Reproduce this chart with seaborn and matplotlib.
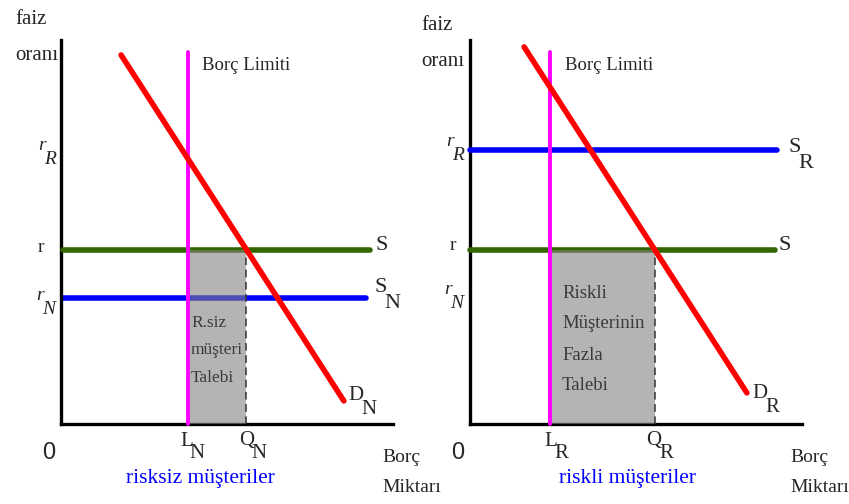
import numpy as np
import matplotlib
matplotlib.use("Agg")
import matplotlib.pyplot as plt
import seaborn as sns
from matplotlib.transforms import Affine2D

# data, in axis units (0-10 on both axes)
r = 4.53          # common rate (S)
r_N = 3.28        # riskless rate (S_N)
r_R = 7.14        # risky rate (S_R)
limit_top = 9.69  # top of the "Borç Limiti" line

L_N, Q_N = 3.83, 5.57
L_R, Q_R = 2.41, 5.57

dN_x = [1.81, 8.52]
dN_y = [9.61, 0.60]
dR_x = [1.63, 8.34]
dR_y = [9.82, 0.81]

s_left_x = [0.06, 9.31]
sN_x = [0.06, 9.19]
s_right_x = [0.0, 9.19]
sR_x = [0.0, 9.25]

W, H = 849, 504
sns.set_theme(style="white")
plt.rcParams["font.family"] = ["Liberation Serif", "DejaVu Serif"]

fig = plt.figure(figsize=(W / 100, H / 100), dpi=100)
pix = Affine2D().scale(1 / W, -1 / H).translate(0, 1) + fig.transFigure

RED, BLUE, GREEN, MAG = "#ff0000", "#0000ff", "#336600", "#ff00ff"


def line(ax, x, y, color, lw, z=3):
    sns.lineplot(x=x, y=y, ax=ax, color=color, lw=lw, estimator=None,
                 sort=False, legend=False, zorder=z, solid_capstyle="round")
    ax.lines[-1].set_clip_on(False)


def txt(x, y, s, size=14, **kw):
    fig.text(x, y, s, transform=pix, fontsize=size, va="center", **kw)


def sub(x, y, main, low, dx, dy, size=15, style="normal"):
    txt(x, y, main, size=size, style=style)
    txt(x + dx, y + dy, low, size=size, style=style)


def panel(left_px):
    ax = fig.add_axes([left_px / W, (H - 424) / H, 332 / W, 384 / H])
    ax.set_xlim(0, 10)
    ax.set_ylim(0, 10)
    ax.set_xticks([])
    ax.set_yticks([])
    for sp in ["top", "right"]:
        ax.spines[sp].set_visible(False)
    for sp in ["left", "bottom"]:
        ax.spines[sp].set_color("black")
        ax.spines[sp].set_linewidth(2.4)
    ax.patch.set_alpha(0)
    return ax


# ---- left panel: risksiz müşteriler
ax1 = panel(61)
line(ax1, s_left_x, [r, r], GREEN, 4)
line(ax1, sN_x, [r_N, r_N], BLUE, 4, z=2)
ax1.fill_between([L_N, Q_N], 0, r, color="#828282", alpha=0.6, lw=0, zorder=3)
ax1.plot([Q_N, Q_N], [0, r], color="#333333", lw=1.1, dashes=(5, 3), zorder=3)
line(ax1, [L_N, L_N], [0, limit_top], MAG, 2.8, z=4)
line(ax1, dN_x, dN_y, RED, 4, z=5)

# ---- right panel: riskli müşteriler
ax2 = panel(470)
line(ax2, s_right_x, [r, r], GREEN, 4)
line(ax2, sR_x, [r_R, r_R], BLUE, 4)
ax2.fill_between([L_R, Q_R], 0, r, color="#828282", alpha=0.6, lw=0, zorder=3)
ax2.plot([Q_R, Q_R], [0, r], color="#333333", lw=1.1, dashes=(5, 3), zorder=3)
line(ax2, [L_R, L_R], [0, limit_top], MAG, 2.8, z=4)
line(ax2, dR_x, dR_y, RED, 4, z=5)

# ---- annotations, left
txt(15, 19, "faiz", size=15)
txt(15, 55, "oranı", size=15)
txt(202, 66, "Borç Limiti", size=13.5)
sub(38, 146, "r", "R", 6, 14, size=14, style="italic")
txt(38, 247, "r", size=14)
sub(36, 295, "r", "N", 6, 14, size=14, style="italic")
txt(376, 245, "S", size=16)
sub(375, 288, "S", "N", 9, 16, size=16)
sub(348, 395, "D", "N", 13, 14, size=15)
fig.text(49 / W, 1 - 453 / H, "0", fontsize=17, ha="center", va="center",
         family="Liberation Sans")
sub(180, 441, "L", "N", 9, 13, size=15)
sub(239, 441, "Q", "N", 12, 13, size=15)
txt(200, 479, "risksiz müşteriler", size=15.5, color=BLUE, ha="center")
txt(382, 458, "Borç", size=14)
txt(382, 488, "Miktarı", size=14)
for i, s in enumerate(["R.siz", "müşteri", "Talebi"]):
    txt(191, 323 + 27.5 * i, s, size=12.5, color="#3a3a3a")

# ---- annotations, right
txt(421, 26, "faiz", size=15)
txt(421, 61, "oranı", size=15)
txt(565, 66, "Borç Limiti", size=13.5)
sub(446, 142, "r", "R", 6, 14, size=14, style="italic")
txt(450, 245, "r", size=14)
sub(444, 290, "r", "N", 6, 14, size=14, style="italic")
sub(789, 147, "S", "R", 9, 17, size=16)
txt(779, 245, "S", size=16)
sub(752, 393, "D", "R", 13, 14, size=15)
fig.text(458 / W, 1 - 453 / H, "0", fontsize=17, ha="center", va="center",
         family="Liberation Sans")
sub(544, 441, "L", "R", 10, 13, size=15)
sub(646, 441, "Q", "R", 13, 13, size=15)
txt(628, 479, "riskli müşteriler", size=15.5, color=BLUE, ha="center")
txt(790, 458, "Borç", size=14)
txt(790, 488, "Miktarı", size=14)
for i, s in enumerate(["Riskli", "Müşterinin", "Fazla", "Talebi"]):
    txt(562, 293 + 31 * i, s, size=13.5, color="#3a3a3a")

fig.savefig("out.png", dpi=100)
plt.close()
